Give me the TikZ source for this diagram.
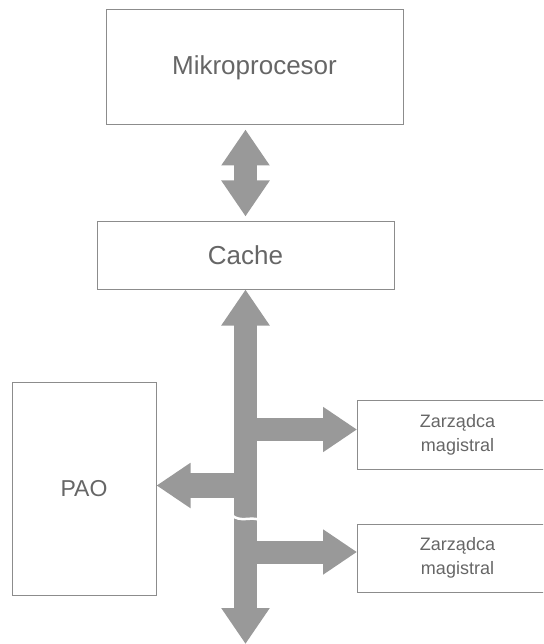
\documentclass[tikz,border=0pt]{standalone}
\usepackage{fontspec}
\setmainfont{Liberation Sans}
\usetikzlibrary{arrows.meta}

\tikzset{
    bushead/.tip={Triangle[width=46pt, length=36pt]},
    sidehead/.tip={Triangle[width=43pt, length=34pt]}
}

\begin{document}
\begin{tikzpicture}[
        x=1pt, y=-1pt,
        block/.style={
            draw=black!45,
            line width=1pt,
            text=black!60,
            inner sep=0pt
        },
        biglabel/.style={
            font=\fontsize{26}{30}\selectfont
        },
        smalllabel/.style={
            font=\fontsize{18}{24}\selectfont,
            align=center
        },
        busline/.style={
            line width=23pt,
            draw=black!40
        }
    ]

    \clip (0,0) rectangle (543,644);

    % Blocks
    \node[block, biglabel, minimum width=297pt, minimum height=115pt]
        (cpu) at (254.5,67.5) {Mikroprocesor};
    \node[block, biglabel, minimum width=297pt, minimum height=68pt]
        (cache) at (245.5,255) {Cache};
    \node[block, font=\fontsize{23}{28}\selectfont,
          minimum width=144pt, minimum height=213pt]
        (pao) at (84,488.5) {PAO};
    \node[block, smalllabel, anchor=west, minimum width=200pt, minimum height=69pt]
        (mgr1) at (357,434.5) {Zarządca\\magistral};
    \node[block, smalllabel, anchor=west, minimum width=200pt, minimum height=68pt]
        (mgr2) at (357,558) {Zarządca\\magistral};

    % Bus ends
    \coordinate (busend) at (cache.south |- 0,644);
    \coordinate (gap) at (cache.south |- 0,519);

    % Processor <-> cache
    \draw[busline, {bushead}-{bushead}, shorten <=4pt, shorten >=4pt]
        (cache.north) -- (cache.north |- cpu.south);

    % Main bus
    \draw[busline, {bushead}-{bushead}] (cache.south) -- (busend);

    % Branches
    \draw[busline, -{sidehead}]
        ([yshift=5pt]mgr1.west -| busend) -- ([yshift=5pt]mgr1.west);
    \draw[busline, -{sidehead}]
        ([yshift=6pt]mgr2.west -| busend) -- ([yshift=6pt]mgr2.west);
    \draw[busline, line width=25pt, -{sidehead}]
        ([yshift=3pt]pao.east -| busend) -- ([yshift=3pt]pao.east);

    % Break in the bus
    \draw[white, line width=2.5pt]
        ([xshift=-14pt, yshift=4pt]gap)
        .. controls ([xshift=-5pt, yshift=-4pt]gap) and ([xshift=5pt, yshift=3pt]gap) ..
        ([xshift=14pt, yshift=-1pt]gap);

\end{tikzpicture}
\end{document}
